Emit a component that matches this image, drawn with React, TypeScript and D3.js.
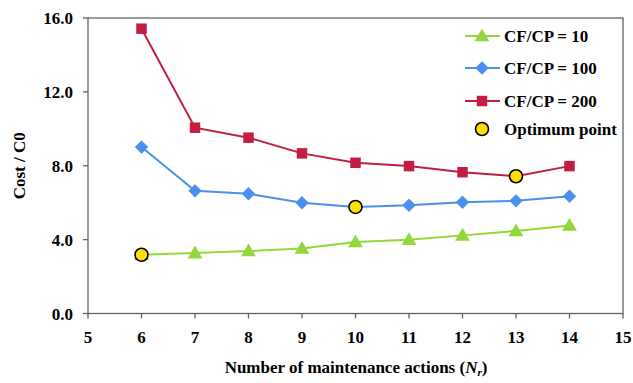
import React from "react";
import * as d3 from "d3";

const xValues = [6, 7, 8, 9, 10, 11, 12, 13, 14];
const seriesNames = ["CF/CP = 10", "CF/CP = 100", "CF/CP = 200"];
const cf10 = [3.18, 3.27, 3.38, 3.52, 3.87, 3.99, 4.23, 4.47, 4.76];
const cf100 = [9.01, 6.64, 6.48, 6.0, 5.77, 5.86, 6.02, 6.1, 6.35];
const cf200 = [15.42, 10.06, 9.52, 8.67, 8.16, 7.98, 7.65, 7.43, 7.98];
const optimumX = [6, 10, 13];
const optimumY = [3.18, 5.77, 7.43];
const xTicks = [5, 6, 7, 8, 9, 10, 11, 12, 13, 14, 15];
const yTicks = [0, 4, 8, 12, 16];

const colors = ["#92D83A", "#4A90EE", "#C21E42"];
const shapes = [d3.symbolTriangle, d3.symbolSquare, d3.symbolSquare];
const sizes = [95, 90, 110];
const rotations = [0, 45, 0];

const TS: React.CSSProperties = { fontFamily: "Liberation Serif", fontWeight: "bold", fontSize: 17 };

export default function App() {
  const W = 633, H = 383;
  const left = 88, right = 623, top = 18, bottom = 313.5;
  const x = d3.scaleLinear().domain([5, 15]).range([left, right]);
  const y = d3.scaleLinear().domain([0, 16]).range([bottom, top]);
  const all = [cf10, cf100, cf200];
  const line = d3.line<number>().x((_, i) => x(xValues[i])).y((v) => y(v));
  const axisColor = "#5f6468";
  const legendRows = [36, 68, 101];

  return (
    <svg width={W} height={H} style={{ position: "absolute", left: 0, top: 0 }}>
      <rect x={0} y={0} width={W} height={H} fill="#fff" />
      <rect x={left} y={top} width={right - left} height={bottom - top} fill="none" stroke={axisColor} strokeWidth={1.3} />
      {xTicks.map((t) => (
        <g key={"x" + t}>
          <line x1={x(t)} x2={x(t)} y1={bottom} y2={bottom + 5} stroke={axisColor} strokeWidth={1.3} />
          <text x={x(t)} y={bottom + 29} textAnchor="middle" style={TS}>{t}</text>
        </g>
      ))}
      {yTicks.map((t) => (
        <g key={"y" + t}>
          <line x1={left - 5} x2={left} y1={y(t)} y2={y(t)} stroke={axisColor} strokeWidth={1.3} />
          <text x={73} y={y(t) + 6} textAnchor="end" style={TS}>{t.toFixed(1)}</text>
        </g>
      ))}
      <text transform={`translate(25,${(top + bottom) / 2}) rotate(-90)`} textAnchor="middle" style={TS}>Cost / C0</text>
      <text x={356} y={373} textAnchor="middle" style={TS}>
        Number of maintenance actions (<tspan fontStyle="italic">N</tspan><tspan fontStyle="italic" fontSize={11} dy={3}>r</tspan><tspan dy={-3}>)</tspan>
      </text>
      {all.map((s, k) => (
        <g key={"s" + k}>
          <path d={line(s) || ""} fill="none" stroke={colors[k]} strokeWidth={2} />
          {s.map((v, i) => (
            <path key={i} d={d3.symbol().type(shapes[k]).size(sizes[k])() || ""} transform={`translate(${x(xValues[i])},${y(v) + (k === 0 ? 1 : 0)}) rotate(${rotations[k]})`} fill={colors[k]} />
          ))}
        </g>
      ))}
      {optimumX.map((ox, i) => (
        <circle key={"o" + i} cx={x(ox)} cy={y(optimumY[i])} r={6.5} fill="#FFE000" stroke="#000" strokeWidth={1.6} />
      ))}
      {seriesNames.map((n, k) => (
        <g key={"l" + k}>
          <line x1={465} x2={500} y1={legendRows[k]} y2={legendRows[k]} stroke={colors[k]} strokeWidth={2} />
          <path d={d3.symbol().type(shapes[k]).size(sizes[k])() || ""} transform={`translate(482,${legendRows[k] + (k === 0 ? 1 : 0)}) rotate(${rotations[k]})`} fill={colors[k]} />
          <text x={504} y={legendRows[k] + 6} style={TS}>{n}</text>
        </g>
      ))}
      <circle cx={482} cy={129} r={6.5} fill="#FFE000" stroke="#000" strokeWidth={1.6} />
      <text x={504} y={135} style={TS}>Optimum point</text>
    </svg>
  );
}
